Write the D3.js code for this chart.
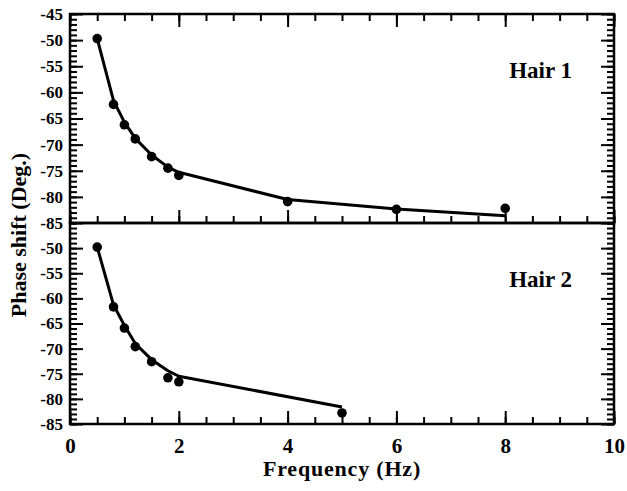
<!DOCTYPE html>
<html>
<head>
<meta charset="utf-8">
<script src="https://cdn.jsdelivr.net/npm/d3@7"></script>
<style>
  body { margin: 0; background: #fff; }
  text { font-family: "Liberation Serif", "Times New Roman", serif; font-weight: bold; fill: #000; }
</style>
</head>
<body>
<div id="chart"></div>
<script>
// hair 1 measurements
var freq1 = [0.5, 0.8, 1.0, 1.2, 1.5, 1.8, 2.0, 4.0, 6.0, 8.0];
var phase1 = [-49.7, -62.3, -66.2, -68.9, -72.3, -74.5, -75.9, -80.9, -82.4, -82.2];
var fit1 = [-49.7, -61.6, -65.7, -68.8, -72.0, -74.3, -75.3, -80.5, -82.3, -83.6];

// hair 2 measurements
var freq2 = [0.5, 0.8, 1.0, 1.2, 1.5, 1.8, 2.0, 5.0];
var phase2 = [-49.8, -61.7, -65.9, -69.6, -72.6, -75.8, -76.6, -82.8];
var fit2 = [-49.8, -61.3, -65.4, -69.0, -72.2, -74.4, -75.5, -81.6];

var panelLabels = ["Hair 1", "Hair 2"];
var xTicks = [0, 2, 4, 6, 8, 10];
var yTicksTop = [-45, -50, -55, -60, -65, -70, -75, -80, -85];
var yTicksBottom = [-50, -55, -60, -65, -70, -75, -80, -85];

var width = 627, height = 491;
var padLeft = 70, padRight = 614, padTop = 14, padMid = 223, padBottom = 424;

var svg = d3.select("#chart").append("svg")
    .attr("width", width)
    .attr("height", height);

var x = d3.scaleLinear().domain([0, 10]).range([padLeft, padRight]);
var yTop = d3.scaleLinear().domain([-85, -45]).range([padMid, padTop]);
var yBot = d3.scaleLinear().domain([-85, -45]).range([padBottom, padMid]);

var xMinor = d3.range(0, 10.01, 0.5);
var yMinor = d3.range(-85, -44, 1);

function styleAxis(g) {
    g.select(".domain").remove();
    g.selectAll(".tick line").attr("stroke", "#000").attr("stroke-width", 2);
    g.attr("font-family", null).attr("font-size", null);
}

function drawPanel(y, yTicks, freq, phase, fit, label, showX) {

    // left axis, ticks inside
    svg.append("g").attr("transform", "translate(" + padLeft + ",0)")
        .call(d3.axisLeft(y).tickValues(yMinor).tickSize(-7).tickFormat(""))
        .call(styleAxis);
    var yl = svg.append("g").attr("transform", "translate(" + padLeft + ",0)")
        .call(d3.axisLeft(y).tickValues(yTicks).tickSize(-13).tickPadding(7)
            .tickFormat(function (d) { return String(d); }))
        .call(styleAxis);
    yl.selectAll("text").style("font-size", "17px");

    // right axis
    svg.append("g").attr("transform", "translate(" + padRight + ",0)")
        .call(d3.axisRight(y).tickValues(yMinor).tickSize(-7).tickFormat(""))
        .call(styleAxis);
    svg.append("g").attr("transform", "translate(" + padRight + ",0)")
        .call(d3.axisRight(y).tickValues(yTicks).tickSize(-13).tickFormat(""))
        .call(styleAxis);

    var y0 = y.range()[0], y1 = y.range()[1];

    // bottom axis of the panel, ticks pointing up
    svg.append("g").attr("transform", "translate(0," + y0 + ")")
        .call(d3.axisBottom(x).tickValues(xMinor).tickSize(-7).tickFormat(""))
        .call(styleAxis);
    var xb = svg.append("g").attr("transform", "translate(0," + y0 + ")")
        .call(d3.axisBottom(x).tickValues(xTicks).tickSize(-13).tickPadding(14)
            .tickFormat(showX ? function (d) { return String(d); } : ""))
        .call(styleAxis);
    xb.selectAll("text").style("font-size", "21px");

    // frame
    svg.append("rect")
        .attr("x", padLeft).attr("y", y1)
        .attr("width", padRight - padLeft).attr("height", y0 - y1)
        .attr("fill", "none").attr("stroke", "#000").attr("stroke-width", 2.5);

    var line = d3.line()
        .x(function (d, i) { return x(freq[i]); })
        .y(function (d) { return y(d); });

    svg.append("path")
        .datum(fit)
        .attr("d", line)
        .attr("fill", "none")
        .attr("stroke", "#000")
        .attr("stroke-width", 3)
        .attr("stroke-linejoin", "round");

    svg.append("g").selectAll("circle")
        .data(phase)
        .enter()
        .append("circle")
        .attr("cx", function (d, i) { return x(freq[i]); })
        .attr("cy", function (d) { return y(d); })
        .attr("r", 4.8)
        .attr("fill", "#000");

    svg.append("text")
        .attr("x", 572)
        .attr("y", y1 + 64)
        .attr("text-anchor", "end")
        .style("font-size", "23px")
        .text(label);
}

// top axis of the upper panel, ticks pointing down
svg.append("g").attr("transform", "translate(0," + padTop + ")")
    .call(d3.axisTop(x).tickValues(xMinor).tickSize(-7).tickFormat(""))
    .call(styleAxis);
svg.append("g").attr("transform", "translate(0," + padTop + ")")
    .call(d3.axisTop(x).tickValues(xTicks).tickSize(-13).tickFormat(""))
    .call(styleAxis);

drawPanel(yTop, yTicksTop, freq1, phase1, fit1, panelLabels[0], false);
drawPanel(yBot, yTicksBottom, freq2, phase2, fit2, panelLabels[1], true);

// axis titles
svg.append("text")
    .attr("x", (padLeft + padRight) / 2)
    .attr("y", 476)
    .attr("text-anchor", "middle")
    .style("font-size", "22px")
    .style("letter-spacing", "0.8px")
    .text("Frequency (Hz)");

svg.append("text")
    .attr("transform", "translate(26," + 235 + ") rotate(-90)")
    .attr("text-anchor", "middle")
    .style("font-size", "22px")
    .text("Phase shift (Deg.)");
</script>
</body>
</html>
